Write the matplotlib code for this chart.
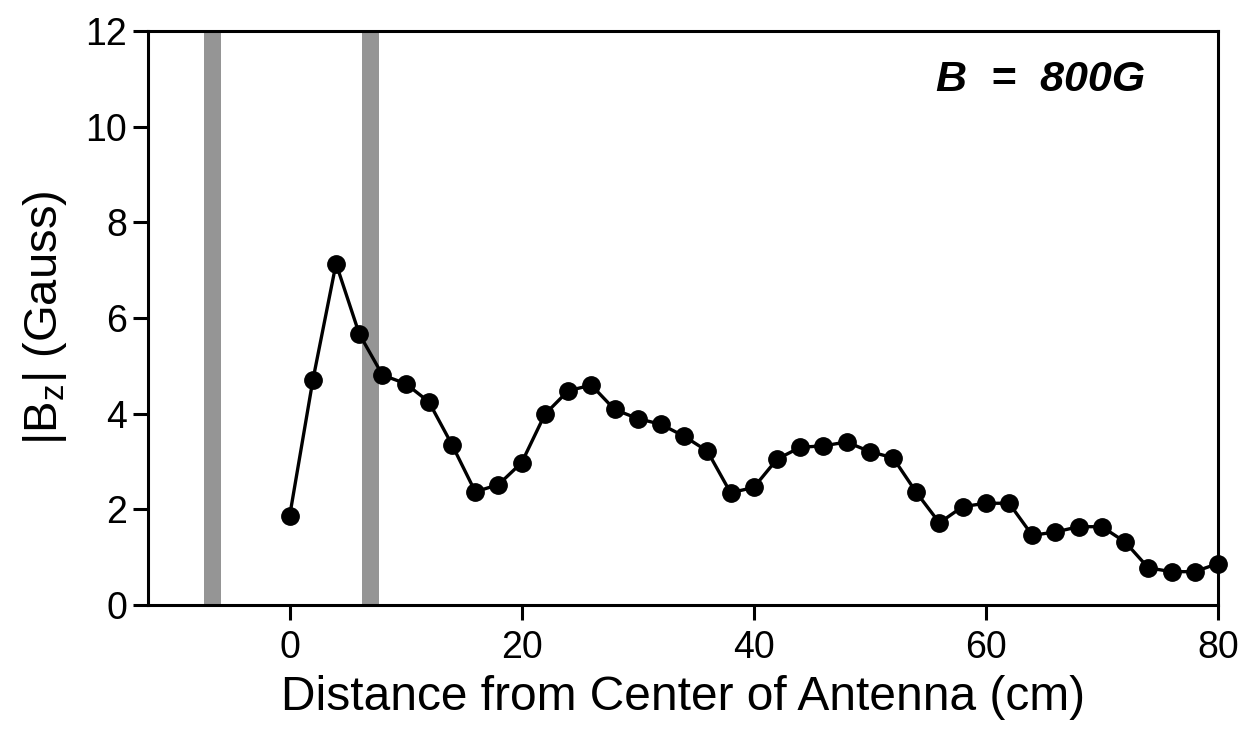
import numpy as np
import matplotlib
matplotlib.use("Agg")
import matplotlib.pyplot as plt

plt.rcParams['font.family'] = ['Liberation Sans', 'DejaVu Sans']
plt.rcParams['mathtext.fontset'] = 'custom'
plt.rcParams['mathtext.rm'] = 'Liberation Sans'
plt.rcParams['mathtext.it'] = 'Liberation Sans:italic'

# Data
distance = np.arange(0, 82, 2)
bz = [1.86, 4.70, 7.14, 5.67, 4.81, 4.63, 4.25, 3.35, 2.37, 2.52,
      2.98, 3.99, 4.48, 4.60, 4.09, 3.90, 3.78, 3.53, 3.22, 2.35,
      2.46, 3.05, 3.30, 3.33, 3.41, 3.21, 3.08, 2.36, 1.72, 2.06,
      2.13, 2.13, 1.46, 1.53, 1.64, 1.64, 1.32, 0.78, 0.70, 0.70, 0.87]

# Antenna position bands (cm)
bands = [(-7.35, -5.9), (6.2, 7.7)]

fig = plt.figure(figsize=(12.39, 7.30), dpi=100)
ax = fig.add_axes([0.1195, 0.171, 0.8635, 0.7865])

for lo, hi in bands:
    ax.axvspan(lo, hi, color='#959595', lw=0, zorder=1)

ax.plot(distance, bz, color='black', lw=2.4, marker='o', ms=12.5, zorder=3, clip_on=False)

ax.set_xlim(-12.2, 80)
ax.set_ylim(0, 12)
ax.set_xticks([0, 20, 40, 60, 80])
ax.set_yticks(np.arange(0, 13, 2))

for s in ax.spines.values():
    s.set_linewidth(2.2)
ax.tick_params(direction='out', length=11, width=2.2, labelsize=27)
ax.tick_params(axis='x', pad=7)
ax.tick_params(axis='y', pad=4)

ax.set_xlabel('Distance from Center of Antenna (cm)', fontsize=34.5, labelpad=6)
ax.set_ylabel(r'$\mathregular{|B_z|}$ (Gauss)', fontsize=34, labelpad=12)

ax.text(0.932, 0.915, 'B  =  800G', transform=ax.transAxes, ha='right', va='center',
        fontsize=31, fontweight='bold', fontstyle='italic')

fig.savefig('out.png', dpi=100)
